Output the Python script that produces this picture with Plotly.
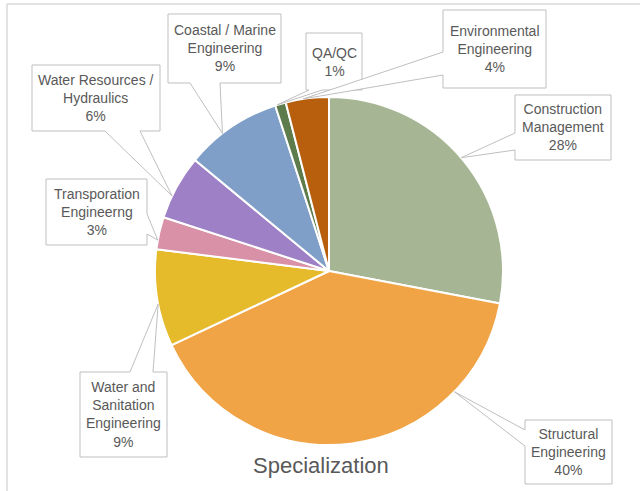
import math
import plotly.graph_objects as go

# Share of respondents by specialization (clockwise from 12 o'clock)
categories = [
    "Construction<br>Management",
    "Structural<br>Engineering",
    "Water and<br>Sanitation<br>Engineering",
    "Transporation<br>Engineerng",
    "Water Resources /<br>Hydraulics",
    "Coastal / Marine<br>Engineering",
    "QA/QC",
    "Environmental<br>Engineering",
]
shares = [28, 40, 9, 3, 6, 9, 1, 4]
slice_colors = ["#A6B593", "#F1A446", "#E5BB2C", "#D891A6",
                "#9D80C5", "#7F9FC8", "#5E7B4C", "#B75F0D"]

W, H = 640, 491
# pie placement in pixels
PCX, PCY, PR = 329, 271, 174

# callout boxes: (x0, y0, x1, y1), side of pointer base, base span, tip position in slice
callouts = [
    ((515, 95, 611, 160), "left", (133, 150), 0.49),
    ((525, 420, 612, 484), "left", (430, 446), 0.23),
    ((80, 372, 167, 457), "top", (130, 153), 0.44),
    ((46, 179, 147, 245), "right", (214, 234), 0.28),
    ((32, 65, 160, 131), "bottom", (105, 140), 0.35),
    ((168, 14, 281, 83), "bottom", (190, 220), 0.39),
    ((306, 33, 362, 90), "bottom", (309, 322), 0.20),
    ((443, 10, 546, 88), "left", (52, 75), 0.41),
]


def px(x, y):
    return x / W, 1 - y / H


fig = go.Figure()
fig.add_trace(go.Pie(
    values=shares,
    labels=[c.replace("<br>", " ") for c in categories],
    sort=False,
    direction="clockwise",
    rotation=0,
    textinfo="none",
    hoverinfo="label+percent",
    marker=dict(colors=slice_colors, line=dict(color="white", width=2)),
    showlegend=False,
    domain=dict(x=[(PCX - PR) / W, (PCX + PR) / W],
                y=[(H - PCY - PR) / H, (H - PCY + PR) / H]),
))

total = sum(shares)
start = 0.0
shapes = []
annotations = []
for cat, val, (box, side, (a, b), frac) in zip(categories, shares, callouts):
    span = 360.0 * val / total
    ang = math.radians(start + frac * span)
    start += span
    tip = (PCX + PR * math.sin(ang), PCY - PR * math.cos(ang))
    x0, y0, x1, y1 = box
    pts = [(x0, y0)]
    if side == "top":
        pts += [(a, y0), tip, (b, y0)]
    pts += [(x1, y0)]
    if side == "right":
        pts += [(x1, a), tip, (x1, b)]
    pts += [(x1, y1)]
    if side == "bottom":
        pts += [(b, y1), tip, (a, y1)]
    pts += [(x0, y1)]
    if side == "left":
        pts += [(x0, b), tip, (x0, a)]
    path = "M " + " L ".join("{:.5f},{:.5f}".format(*px(*p)) for p in pts) + " Z"
    shapes.append(dict(type="path", xref="paper", yref="paper", path=path,
                       fillcolor="white", line=dict(color="#BFBFBF", width=1)))
    cx, cy = px((x0 + x1) / 2, (y0 + y1) / 2)
    annotations.append(dict(
        x=cx, y=cy, xref="paper", yref="paper", xanchor="center", yanchor="middle",
        text=f"{cat}<br>{val}%", showarrow=False, align="center",
        font=dict(family="Liberation Sans, Arial, sans-serif", size=14, color="#595959"),
    ))

# chart frame edges
shapes.append(dict(type="line", xref="paper", yref="paper",
                   x0=px(7, 4)[0], y0=px(7, 4)[1], x1=1, y1=px(7, 4)[1],
                   line=dict(color="#D9D9D9", width=1.5)))
shapes.append(dict(type="line", xref="paper", yref="paper",
                   x0=px(7, 4)[0], y0=px(7, 4)[1], x1=px(7, 4)[0], y1=0,
                   line=dict(color="#D9D9D9", width=1.5)))

tx, ty = px(321, 465)
annotations.append(dict(
    x=tx, y=ty, xref="paper", yref="paper", xanchor="center", yanchor="middle",
    text="Specialization", showarrow=False,
    font=dict(family="Liberation Sans, Arial, sans-serif", size=22, color="#595959"),
))

fig.update_layout(
    width=W, height=H,
    margin=dict(l=0, r=0, t=0, b=0),
    paper_bgcolor="white",
    plot_bgcolor="white",
    shapes=shapes,
    annotations=annotations,
)

fig.write_html("out.html")
